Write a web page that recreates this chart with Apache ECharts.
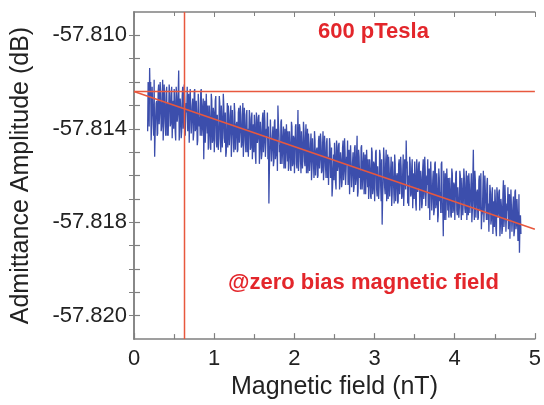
<!DOCTYPE html>
<html>
<head>
	<meta charset="utf-8">
	<script src="https://cdn.jsdelivr.net/npm/echarts@6/dist/echarts.min.js"></script>
</head>
<body style="margin: 0">
	<div id="container" style="width: 544px; height: 405px"></div>
	<script type="text/javascript">
		// measured trace: sample i of traceY sits at traceX0 + i * traceDx (nT),
		// sample i of traceYMid sits half a step later; values in dB
		const traceX0 = 0.17;
		const traceDx = 0.0125;
		const traceY = [
			-57.8141, -57.8125, -57.8114, -57.8120, -57.8138, -57.8130, -57.8143, -57.8152, -57.8135, -57.8128, -57.8142, -57.8121, -57.8133, -57.8125, -57.8139, -57.8119, -57.8137, -57.8129, -57.8143, -57.8122,
			-57.8129, -57.8143, -57.8125, -57.8138, -57.8122, -57.8135, -57.8140, -57.8128, -57.8145, -57.8126, -57.8134, -57.8115, -57.8139, -57.8131, -57.8141, -57.8122, -57.8137, -57.8127, -57.8143, -57.8133,
			-57.8141, -57.8125, -57.8146, -57.8131, -57.8137, -57.8127, -57.8142, -57.8123, -57.8140, -57.8134, -57.8145, -57.8129, -57.8135, -57.8124, -57.8143, -57.8130, -57.8153, -57.8128, -57.8139, -57.8133,
			-57.8130, -57.8143, -57.8135, -57.8149, -57.8128, -57.8145, -57.8133, -57.8139, -57.8126, -57.8148, -57.8134, -57.8144, -57.8129, -57.8150, -57.8136, -57.8141, -57.8130, -57.8146, -57.8152, -57.8140,
			-57.8148, -57.8134, -57.8142, -57.8130, -57.8146, -57.8139, -57.8150, -57.8133, -57.8143, -57.8137, -57.8149, -57.8131, -57.8141, -57.8134, -57.8147, -57.8129, -57.8145, -57.8138, -57.8150, -57.8132,
			-57.8140, -57.8152, -57.8135, -57.8148, -57.8133, -57.8145, -57.8150, -57.8138, -57.8155, -57.8136, -57.8144, -57.8134, -57.8149, -57.8141, -57.8151, -57.8133, -57.8146, -57.8137, -57.8152, -57.8143,
			-57.8153, -57.8172, -57.8157, -57.8144, -57.8149, -57.8139, -57.8154, -57.8136, -57.8151, -57.8146, -57.8130, -57.8142, -57.8147, -57.8137, -57.8155, -57.8143, -57.8157, -57.8140, -57.8150, -57.8145,
			-57.8141, -57.8152, -57.8146, -57.8158, -57.8139, -57.8155, -57.8144, -57.8149, -57.8138, -57.8157, -57.8132, -57.8154, -57.8140, -57.8159, -57.8147, -57.8151, -57.8141, -57.8156, -57.8138, -57.8150,
			-57.8159, -57.8146, -57.8154, -57.8142, -57.8157, -57.8150, -57.8161, -57.8145, -57.8155, -57.8148, -57.8160, -57.8143, -57.8153, -57.8146, -57.8158, -57.8141, -57.8156, -57.8149, -57.8161, -57.8144,
			-57.8152, -57.8164, -57.8147, -57.8159, -57.8169, -57.8157, -57.8162, -57.8151, -57.8166, -57.8148, -57.8156, -57.8146, -57.8161, -57.8153, -57.8163, -57.8145, -57.8158, -57.8150, -57.8164, -57.8155,
			-57.8164, -57.8149, -57.8168, -57.8155, -57.8160, -57.8150, -57.8165, -57.8147, -57.8162, -57.8143, -57.8167, -57.8152, -57.8158, -57.8148, -57.8166, -57.8154, -57.8168, -57.8151, -57.8161, -57.8156,
			-57.8153, -57.8164, -57.8157, -57.8170, -57.8150, -57.8166, -57.8155, -57.8161, -57.8149, -57.8169, -57.8156, -57.8165, -57.8151, -57.8171, -57.8181, -57.8163, -57.8153, -57.8168, -57.8149, -57.8162,
			-57.8170, -57.8157, -57.8164, -57.8152, -57.8168, -57.8161, -57.8172, -57.8155, -57.8165, -57.8159, -57.8171, -57.8153, -57.8163, -57.8157, -57.8169, -57.8151, -57.8166, -57.8160, -57.8145, -57.8154,
			-57.8160, -57.8173, -57.8155, -57.8168, -57.8153, -57.8166, -57.8170, -57.8159, -57.8175, -57.8157, -57.8165, -57.8154, -57.8169, -57.8161, -57.8172, -57.8153, -57.8167, -57.8158, -57.8173, -57.8164,
			-57.8174, -57.8157, -57.8179, -57.8163, -57.8170, -57.8158, -57.8175, -57.8154, -57.8172, -57.8166, -57.8177, -57.8161, -57.8167, -57.8155, -57.8176, -57.8186, -57.8179, -57.8159, -57.8171, -57.8164,
			-57.8161, -57.8172, -57.8166, -57.8178, -57.8159, -57.8175, -57.8164, -57.8169, -57.8158, -57.8177, -57.8165, -57.8174, -57.8160, -57.8179, -57.8167, -57.8171, -57.8161, -57.8176, -57.8158, -57.8170,
			-57.8177, -57.8164, -57.8171, -57.8159, -57.8175, -57.8149, -57.8179, -57.8162, -57.8172, -57.8166, -57.8178, -57.8160, -57.8170, -57.8183, -57.8176, -57.8158, -57.8173, -57.8167, -57.8179, -57.8161,
			-57.8172, -57.8184, -57.8167, -57.8179, -57.8165, -57.8177, -57.8182, -57.8171, -57.8186, -57.8168, -57.8176, -57.8166, -57.8181, -57.8173, -57.8183, -57.8162, -57.8178, -57.8170, -57.8184, -57.8175,
			-57.8183, -57.8168, -57.8187, -57.8174, -57.8179, -57.8169, -57.8184, -57.8166, -57.8181, -57.8176, -57.8186, -57.8193, -57.8177
		];
		const traceYMid = [
			-57.8120, -57.8139, -57.8126, -57.8145, -57.8122, -57.8135, -57.8119, -57.8142, -57.8129, -57.8143, -57.8124, -57.8138, -57.8120, -57.8141, -57.8128, -57.8145, -57.8121, -57.8137, -57.8125, -57.8143,
			-57.8143, -57.8121, -57.8139, -57.8126, -57.8144, -57.8128, -57.8123, -57.8141, -57.8122, -57.8137, -57.8125, -57.8145, -57.8127, -57.8144, -57.8126, -57.8140, -57.8121, -57.8143, -57.8129, -57.8122,
			-57.8127, -57.8146, -57.8123, -57.8142, -57.8130, -57.8145, -57.8124, -57.8141, -57.8128, -57.8147, -57.8125, -57.8139, -57.8143, -57.8123, -57.8140, -57.8127, -57.8137, -57.8146, -57.8125, -57.8142,
			-57.8149, -57.8130, -57.8148, -57.8125, -57.8146, -57.8131, -57.8150, -57.8128, -57.8145, -57.8134, -57.8149, -57.8126, -57.8143, -57.8130, -57.8148, -57.8125, -57.8144, -57.8133, -57.8150, -57.8129,
			-57.8130, -57.8147, -57.8135, -57.8152, -57.8132, -57.8143, -57.8129, -57.8149, -57.8138, -57.8150, -57.8133, -57.8146, -57.8130, -57.8148, -57.8137, -57.8152, -57.8131, -57.8145, -57.8134, -57.8150,
			-57.8152, -57.8132, -57.8149, -57.8136, -57.8153, -57.8138, -57.8134, -57.8151, -57.8133, -57.8146, -57.8135, -57.8155, -57.8137, -57.8153, -57.8136, -57.8150, -57.8132, -57.8152, -57.8140, -57.8133,
			-57.8139, -57.8157, -57.8136, -57.8154, -57.8143, -57.8156, -57.8137, -57.8153, -57.8140, -57.8158, -57.8138, -57.8150, -57.8155, -57.8136, -57.8151, -57.8139, -57.8149, -57.8157, -57.8138, -57.8154,
			-57.8158, -57.8141, -57.8157, -57.8137, -57.8156, -57.8143, -57.8159, -57.8139, -57.8155, -57.8145, -57.8158, -57.8138, -57.8152, -57.8141, -57.8157, -57.8137, -57.8154, -57.8144, -57.8159, -57.8140,
			-57.8142, -57.8158, -57.8147, -57.8162, -57.8144, -57.8155, -57.8141, -57.8160, -57.8149, -57.8161, -57.8145, -57.8157, -57.8142, -57.8159, -57.8148, -57.8162, -57.8143, -57.8156, -57.8146, -57.8161,
			-57.8164, -57.8144, -57.8161, -57.8148, -57.8165, -57.8151, -57.8146, -57.8163, -57.8145, -57.8158, -57.8147, -57.8166, -57.8150, -57.8165, -57.8148, -57.8162, -57.8144, -57.8164, -57.8152, -57.8145,
			-57.8150, -57.8168, -57.8147, -57.8165, -57.8154, -57.8167, -57.8148, -57.8164, -57.8151, -57.8169, -57.8149, -57.8161, -57.8166, -57.8147, -57.8162, -57.8150, -57.8160, -57.8168, -57.8149, -57.8165,
			-57.8170, -57.8153, -57.8169, -57.8148, -57.8168, -57.8154, -57.8171, -57.8150, -57.8166, -57.8156, -57.8170, -57.8149, -57.8164, -57.8153, -57.8169, -57.8148, -57.8165, -57.8155, -57.8171, -57.8151,
			-57.8152, -57.8169, -57.8158, -57.8173, -57.8154, -57.8165, -57.8151, -57.8171, -57.8160, -57.8172, -57.8155, -57.8168, -57.8152, -57.8170, -57.8159, -57.8173, -57.8153, -57.8166, -57.8157, -57.8172,
			-57.8173, -57.8152, -57.8169, -57.8157, -57.8174, -57.8159, -57.8154, -57.8172, -57.8153, -57.8167, -57.8155, -57.8175, -57.8158, -57.8174, -57.8157, -57.8170, -57.8152, -57.8173, -57.8160, -57.8153,
			-57.8158, -57.8179, -57.8154, -57.8175, -57.8162, -57.8177, -57.8155, -57.8174, -57.8159, -57.8180, -57.8157, -57.8171, -57.8176, -57.8154, -57.8172, -57.8158, -57.8170, -57.8179, -57.8157, -57.8175,
			-57.8178, -57.8161, -57.8177, -57.8157, -57.8176, -57.8163, -57.8179, -57.8159, -57.8175, -57.8165, -57.8178, -57.8158, -57.8172, -57.8161, -57.8177, -57.8157, -57.8174, -57.8164, -57.8179, -57.8160,
			-57.8159, -57.8176, -57.8165, -57.8180, -57.8161, -57.8172, -57.8158, -57.8178, -57.8167, -57.8179, -57.8162, -57.8175, -57.8159, -57.8177, -57.8166, -57.8180, -57.8160, -57.8173, -57.8164, -57.8179,
			-57.8184, -57.8164, -57.8181, -57.8168, -57.8185, -57.8171, -57.8166, -57.8183, -57.8165, -57.8178, -57.8167, -57.8186, -57.8170, -57.8185, -57.8168, -57.8182, -57.8164, -57.8184, -57.8172, -57.8165,
			-57.8169, -57.8187, -57.8166, -57.8184, -57.8173, -57.8186, -57.8167, -57.8183, -57.8170, -57.8188, -57.8168, -57.8180, -57.8185
		];

		// red guide lines
		const refLevel = [[0, -57.8124], [5, -57.8124]];
		const markerLine = [[0.63, -57.823], [0.63, -57.809]];
		const fitLine = [[0, -57.8124], [5, -57.8183]];

		// axis ticks and labels as printed
		const xTicks = [0, 1, 2, 3, 4, 5];
		const yLabelValues = [-57.810, -57.814, -57.818, -57.822];
		const yLabels = ['-57.810', '-57.814', '-57.818', '-57.820'];
		const yTickValues = [-57.810, -57.811, -57.812, -57.813, -57.814, -57.815, -57.816,
			-57.817, -57.818, -57.819, -57.820, -57.821, -57.822];

		const fontName = 'Liberation Sans';
		const red = '#e3262b';
		const guide = '#e8583e';
		const axisGrey = '#808080';

		let traceData = [];
		for (let i = 0; i < traceY.length; i++) {
			traceData.push([traceX0 + i * traceDx, traceY[i]]);
			traceData.push([traceX0 + (i + 0.5) * traceDx, traceYMid[i]]);
		}

		let dom = document.getElementById('container');
		let myChart = echarts.init(dom);

		function yLabel(v) {
			for (let k = 0; k < yLabelValues.length; k++) {
				if (Math.abs(yLabelValues[k] - v) < 1e-7) return yLabels[k];
			}
			return '';
		}

		let axisLineStyle = { lineStyle: { color: axisGrey, width: 1.5 } };

		let option = {
			animation: false,
			grid: { left: 134, right: 5, top: 12, bottom: 62 },
			xAxis: [
				{
					type: 'value', min: 0, max: 5, interval: 1,
					name: 'Magnetic field (nT)', nameLocation: 'middle', nameGap: 33,
					nameTextStyle: { fontFamily: fontName, fontSize: 25, color: '#222' },
					axisLine: axisLineStyle,
					axisTick: { inside: true, length: 6, lineStyle: { color: axisGrey, width: 1.2 } },
					minorTick: { show: true, splitNumber: 2, length: 5, lineStyle: { color: axisGrey, width: 1.2 } },
					axisLabel: { fontFamily: fontName, fontSize: 22, color: '#222', margin: 9,
						formatter: function (v) { return xTicks.indexOf(v) >= 0 ? String(v) : ''; } },
					splitLine: { show: false }
				},
				{
					type: 'value', position: 'top', min: 0, max: 5, interval: 1,
					axisLine: axisLineStyle,
					axisTick: { inside: true, length: 5, lineStyle: { color: axisGrey } },
					minorTick: { show: true, splitNumber: 2, length: 4, lineStyle: { color: axisGrey } },
					axisLabel: { show: false },
					splitLine: { show: false }
				}
			],
			yAxis: [
				{
					type: 'value', min: -57.823, max: -57.809,
					name: 'Admittance Amplitude (dB)', nameLocation: 'middle', nameGap: 100,
					nameTextStyle: { fontFamily: fontName, fontSize: 25, color: '#222' },
					axisLine: axisLineStyle,
					axisTick: { inside: true, length: 6, customValues: yTickValues, lineStyle: { color: axisGrey, width: 1.2 } },
					axisLabel: { fontFamily: fontName, fontSize: 22, color: '#222', margin: 7,
						customValues: yLabelValues, formatter: yLabel },
					splitLine: { show: false }
				},
				{
					type: 'value', position: 'right', min: -57.823, max: -57.809,
					axisLine: axisLineStyle,
					axisTick: { inside: true, length: 5, customValues: yTickValues, lineStyle: { color: axisGrey } },
					axisLabel: { show: false },
					splitLine: { show: false }
				}
			],
			graphic: [
				{ type: 'text', left: 318, top: 21,
					style: { text: '600 pTesla', fontFamily: fontName, fontSize: 22, fontWeight: 'bold', fill: red } },
				{ type: 'text', left: 228, top: 272,
					style: { text: '@zero bias magnetic field', fontFamily: fontName, fontSize: 22, fontWeight: 'bold', fill: red } }
			],
			series: [
				{
					type: 'line', data: traceData, showSymbol: false, z: 2,
					lineStyle: { color: 'rgba(50, 68, 168, 0.95)', width: 1.3, join: 'bevel' }
				},
				{
					type: 'line', data: refLevel, showSymbol: false, z: 3,
					lineStyle: { color: guide, width: 1.5 }
				},
				{
					type: 'line', data: markerLine, showSymbol: false, z: 3,
					lineStyle: { color: guide, width: 1.5 }
				},
				{
					type: 'line', data: fitLine, showSymbol: false, z: 3,
					lineStyle: { color: guide, width: 1.5 }
				}
			]
		};

		myChart.setOption(option);
	</script>
</body>
</html>
